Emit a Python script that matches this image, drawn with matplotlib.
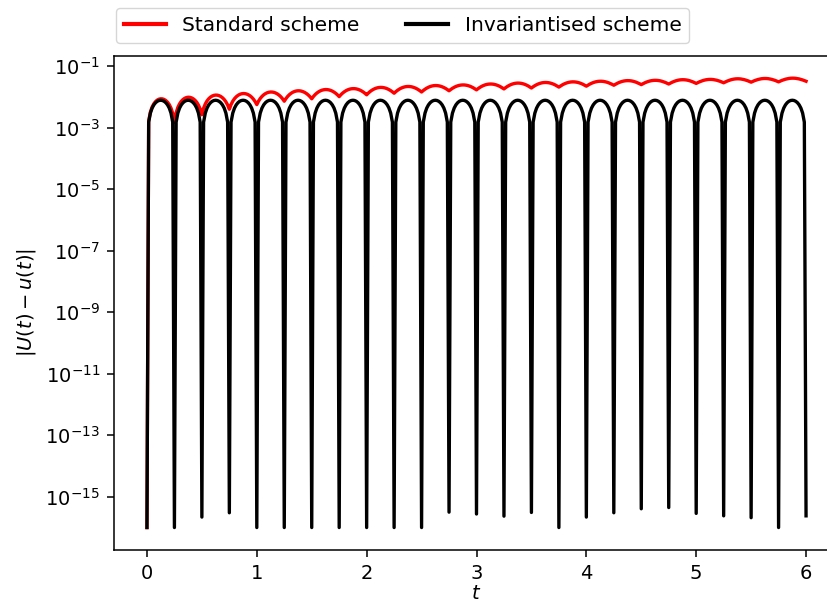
import numpy as np
import matplotlib
matplotlib.use("Agg")
import matplotlib.pyplot as plt

# ---------------- data ----------------
# Arch boundaries: the error curves oscillate with period 0.25 in t
ARCH_STARTS = [0.0, 0.25, 0.5, 0.75, 1.0, 1.25, 1.5, 1.75, 2.0, 2.25, 2.5, 2.75,
               3.0, 3.25, 3.5, 3.75, 4.0, 4.25, 4.5, 4.75, 5.0, 5.25, 5.5, 5.75]
T_END = 6.0
ARCH_WIDTH = 0.25

# relative shape of one arch (fraction of arch width -> fraction of arch height)
ARCH_PHASE = [0.0, 0.0625, 0.125, 0.1875, 0.25, 0.3125, 0.375, 0.4375, 0.5,
              0.5625, 0.625, 0.6875, 0.75, 0.8125, 0.875, 0.9375]
ARCH_SHAPE = [0.0, 0.195, 0.383, 0.556, 0.707, 0.831, 0.924, 0.981, 1.0,
              0.981, 0.924, 0.831, 0.707, 0.556, 0.383, 0.195]

# Invariantised scheme: arch peak and log10 of the minima at t = 0, 0.25, ..., 6
BLACK_PEAK = 7.8e-3
BLACK_MIN_LOG10 = [-16.0, -16.0, -15.66, -15.52, -16.0, -16.0, -16.0, -16.0, -16.0,
                   -16.0, -16.0, -15.50, -15.56, -15.63, -15.51, -16.0, -15.66,
                   -15.52, -15.39, -15.35, -15.54, -15.62, -15.68, -16.0, -15.62]

# Standard scheme: log10 of the dips at t = 0, 0.25, ..., 6 and of the arch peaks
RED_DIP_LOG10 = [-16.0, -2.83, -2.58, -2.40, -2.25, -2.14, -2.06, -1.99, -1.93,
                 -1.88, -1.84, -1.80, -1.77, -1.74, -1.71, -1.68, -1.65, -1.62,
                 -1.60, -1.58, -1.56, -1.54, -1.52, -1.51, -1.49]
RED_PEAK_LOG10 = [-2.06, -2.01, -1.94, -1.89, -1.84, -1.80, -1.76, -1.73, -1.69,
                  -1.66, -1.63, -1.61, -1.58, -1.55, -1.53, -1.51, -1.49, -1.47,
                  -1.46, -1.44, -1.43, -1.41, -1.40, -1.39]

X_TICKS = [0, 1, 2, 3, 4, 5, 6]
Y_TICK_EXP = [-15, -13, -11, -9, -7, -5, -3, -1]

# ---------------- assemble the curves ----------------
phase = np.array(ARCH_PHASE)
shape = np.array(ARCH_SHAPE)
black_min = 10.0 ** np.array(BLACK_MIN_LOG10)
red_dip = 10.0 ** np.array(RED_DIP_LOG10)
red_peak = 10.0 ** np.array(RED_PEAK_LOG10)

t_parts, black_parts, red_parts = [], [], []
for k, t0 in enumerate(ARCH_STARTS):
    t_parts.append(t0 + ARCH_WIDTH * phase)
    b = BLACK_PEAK * shape
    b[0] = black_min[k]
    black_parts.append(b)
    left, right = red_dip[k], red_dip[k + 1]
    base = left * (1 - phase) + right * phase
    amp = red_peak[k] - 0.5 * (left + right)
    red_parts.append(base + amp * shape)
t = np.concatenate(t_parts + [[T_END]])
black = np.concatenate(black_parts + [[black_min[-1]]])
red = np.concatenate(red_parts + [[red_dip[-1]]])

# ---------------- plot ----------------
W, H = 827, 602
fig = plt.figure(figsize=(W / 100, H / 100), dpi=100)
ax = fig.add_axes([114 / W, (H - 550) / H, (839 - 114) / W, (550 - 55.7) / H])

lw = 2.4
ax.plot(t, red, color="red", lw=lw, label="Standard scheme")
ax.plot(t, black, color="black", lw=lw, label="Invariantised scheme")
ax.set_yscale("log")
ax.set_xlim(-0.3, 6.3)

ax.set_xticks(X_TICKS)
ax.set_xticklabels([str(v) for v in X_TICKS])
ax.set_yticks([10.0 ** e for e in Y_TICK_EXP])
ax.set_yticklabels([r"$10^{%d}$" % e for e in Y_TICK_EXP])
ax.yaxis.set_minor_locator(matplotlib.ticker.NullLocator())

fs = 14
ax.tick_params(labelsize=fs, width=1.1, length=5, pad=5)
for s in ax.spines.values():
    s.set_linewidth(1.1)
ax.set_xlabel(r"$t$", fontsize=fs, labelpad=1)
ax.set_ylabel(r"$|U(t) - u(t)|$", fontsize=fs, labelpad=5)

leg = ax.legend(loc="upper left", bbox_to_anchor=(116 / W, 1 - 8 / H),
                bbox_transform=fig.transFigure, ncol=2, fontsize=14.5,
                borderaxespad=0.0, handlelength=2.1, columnspacing=2.3,
                borderpad=0.4)
for line in leg.get_lines():
    line.set_linewidth(3.0)

fig.savefig("out.png", dpi=100)
